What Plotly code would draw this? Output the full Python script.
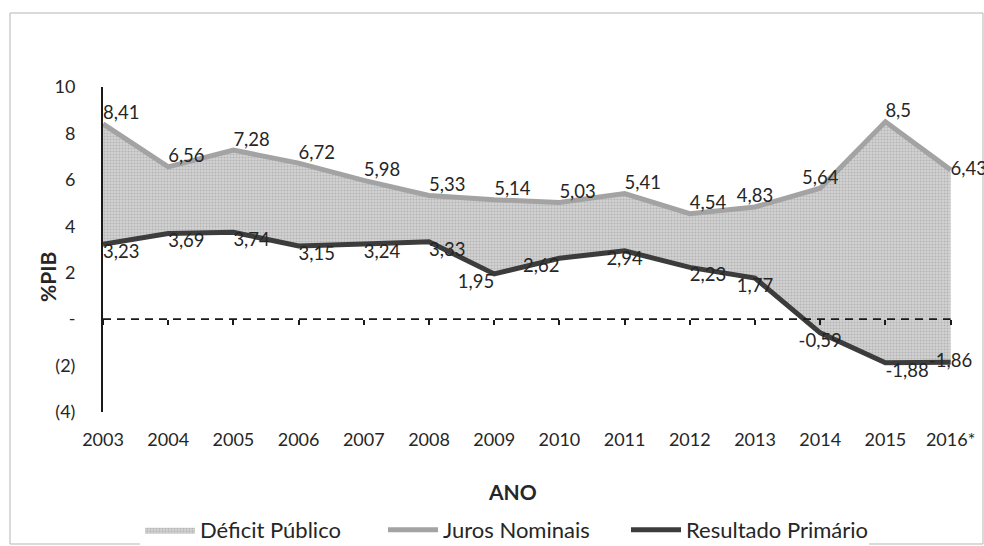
import plotly.graph_objects as go

years = [2003, 2004, 2005, 2006, 2007, 2008, 2009, 2010, 2011, 2012, 2013, 2014, 2015, 2016]
year_labels = ["2003", "2004", "2005", "2006", "2007", "2008", "2009", "2010",
               "2011", "2012", "2013", "2014", "2015", "2016*"]
juros = [8.41, 6.56, 7.28, 6.72, 5.98, 5.33, 5.14, 5.03, 5.41, 4.54, 4.83, 5.64, 8.5, 6.43]
primario = [3.23, 3.69, 3.74, 3.15, 3.24, 3.33, 1.95, 2.62, 2.94, 2.23, 1.77, -0.59, -1.88, -1.86]
y_ticks = [-4, -2, 0, 2, 4, 6, 8, 10]
y_tick_text = ["(4)", "(2)", "-", "2", "4", "6", "8", "10"]

juros_pos = ["top right"] * 14
juros_pos[10] = "top center"
juros_pos[11] = "top center"
juros_pos[13] = "middle right"
prim_pos = ["bottom right"] * 6 + ["bottom left", "bottom left", "bottom center",
                                   "bottom right", "bottom center", "bottom center",
                                   "bottom right", "middle center"]


def fmt(v):
    return ("%g" % v).replace(".", ",")


FONT = "Lato"
W, H = 984, 546
L, R, T, B = 103, 9, 87, 134
PW, PH = W - L - R, H - T - B
PX_PER_YEAR = 65.2


def px_x(px):
    return (px - L) / PW


def px_y(py):
    return (H - B - py) / PH


fig = go.Figure()

# lower bound of filled area (invisible)
fig.add_trace(go.Scatter(x=years, y=primario, mode="lines", line=dict(width=0),
                         showlegend=False, hoverinfo="skip"))
# filled area: Déficit Público
fig.add_trace(go.Scatter(x=years, y=juros, mode="lines", line=dict(width=0),
                         fill="tonexty", fillcolor="#cccccc",
                         fillpattern=dict(shape=".", bgcolor="#d3d3d3", fgcolor="#959595",
                                          size=3, solidity=0.4),
                         name="Déficit Público"))
# zero dashed line on the tick-carrying overlay axis
fig.add_trace(go.Scatter(x=years, y=[0 * v for v in juros], mode="lines", xaxis="x2",
                         line=dict(color="#1a1a1a", width=1.8, dash="8px,6px"),
                         showlegend=False, hoverinfo="skip"))
fig.add_trace(go.Scatter(x=years, y=juros, mode="lines+text", name="Juros Nominais",
                         line=dict(color="#a3a3a3", width=5),
                         text=[fmt(v) for v in juros], textposition=juros_pos,
                         textfont=dict(family=FONT, size=18.5, color="#262626"),
                         cliponaxis=False))
fig.add_trace(go.Scatter(x=years, y=primario, mode="lines+text", name="Resultado Primário",
                         line=dict(color="#3c3c3c", width=5),
                         text=[fmt(v) for v in primario], textposition=prim_pos,
                         textfont=dict(family=FONT, size=18.5, color="#262626"),
                         cliponaxis=False))

x_range = [2003, 2003 + PW / PX_PER_YEAR]

fig.update_layout(
    width=W, height=H,
    margin=dict(l=L, r=R, t=T, b=B),
    paper_bgcolor="white", plot_bgcolor="white",
    font=dict(family=FONT, size=18, color="#262626"),
    xaxis=dict(range=x_range, tickvals=years, ticktext=year_labels, showgrid=False,
               zeroline=False, showline=False, ticks="", ticklabelstandoff=15,
               tickfont=dict(size=18, color="#262626")),
    xaxis2=dict(range=x_range, overlaying="x", anchor="free", position=4 / 14,
                tickvals=years, showticklabels=False, ticks="outside", ticklen=5,
                tickcolor="#1a1a1a", tickwidth=1.5, showgrid=False, zeroline=False,
                showline=False),
    yaxis=dict(range=[-4, 10], tickvals=y_ticks, ticktext=y_tick_text, showgrid=False,
               zeroline=False, showline=True, linecolor="#1a1a1a", linewidth=2,
               ticks="", ticklabelstandoff=22, tickfont=dict(size=18, color="#262626")),
    legend=dict(orientation="h", xref="container", yref="container",
                x=140 / W, y=1 - 530 / H, xanchor="left", yanchor="middle",
                font=dict(family=FONT, size=22, color="#262626"),
                itemwidth=50, traceorder="normal",
                entrywidth=178, entrywidthmode="pixels"),
    annotations=[
        dict(text="<b>%PIB</b>", xref="paper", yref="paper", x=px_x(47), y=px_y(277),
             xanchor="center", yanchor="middle",
             textangle=-90, showarrow=False, font=dict(family=FONT, size=21, color="#262626")),
        dict(text="<b>ANO</b>", xref="paper", yref="paper", x=px_x(512), y=px_y(491),
             xanchor="center", yanchor="middle",
             showarrow=False, font=dict(family=FONT, size=21, color="#262626")),
    ],
    shapes=[
        dict(type="rect", xref="paper", yref="paper", x0=px_x(10), x1=px_x(983),
             y0=px_y(544), y1=px_y(13), line=dict(color="#b5b5b5", width=1),
             fillcolor="rgba(0,0,0,0)", layer="below"),
    ],
)

fig.write_html("out.html", config={"displayModeBar": False},
               post_script="document.body.style.margin='0px';"
                           "document.body.style.overflow='hidden';")
